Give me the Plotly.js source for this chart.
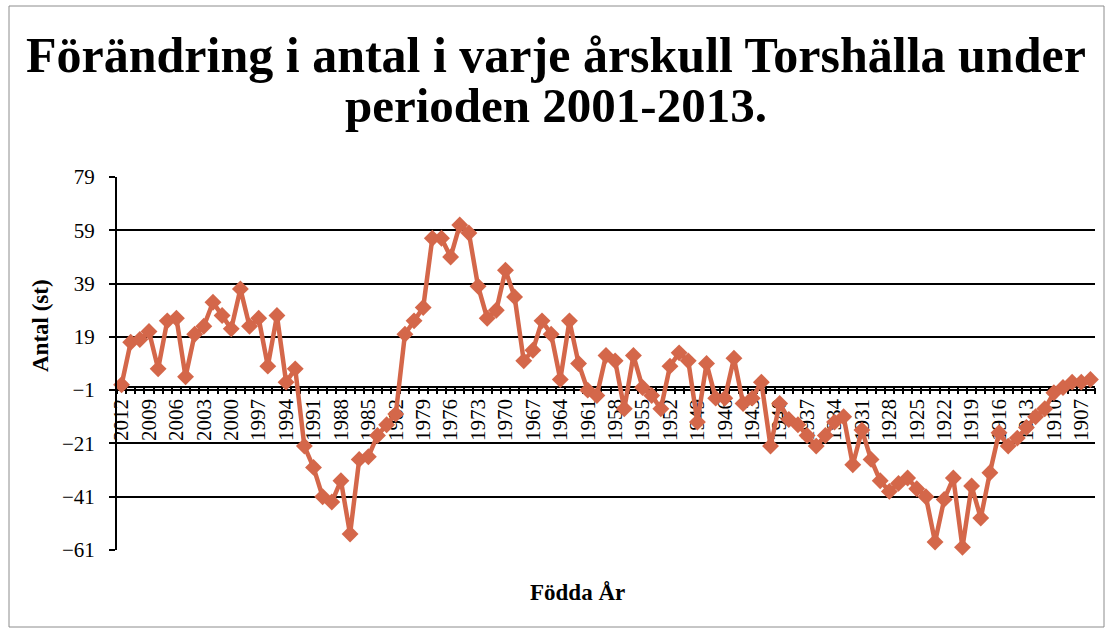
<!DOCTYPE html>
<html>
<head>
<meta charset="utf-8">
<script src="https://cdn.plot.ly/plotly-3.0.1.min.js"></script>
<style>html,body{margin:0;padding:0;background:#fff;}#chart{width:1112px;height:634px;}</style>
</head>
<body>
<div id="chart"></div>
<script>
const years = [2012,2011,2010,2009,2008,2007,2006,2005,2004,2003,2002,2001,2000,1999,1998,1997,1996,1995,1994,1993,
1992,1991,1990,1989,1988,1987,1986,1985,1984,1983,1982,1981,1980,1979,1978,1977,1976,1975,1974,1973,
1972,1971,1970,1969,1968,1967,1966,1965,1964,1963,1962,1961,1960,1959,1958,1957,1956,1955,1954,1953,
1952,1951,1950,1949,1948,1947,1946,1945,1944,1943,1942,1941,1940,1939,1938,1937,1936,1935,1934,1933,
1932,1931,1930,1929,1928,1927,1926,1925,1924,1923,1922,1921,1920,1919,1918,1917,1916,1915,1914,1913,
1912,1911,1910,1909,1908,1907,1906];

const antal = [1,17,18,21,7,25,26,4,20,23,32,27,22,37,23,26,8,27,2,7,
-22,-30,-41,-43,-35,-55,-27,-26,-18,-14,-10,20,25,30,56,56,49,61,58,38,
26,29,44,34,10,14,25,20,3,25,9,-1,-3,12,10,-8,12,0,-3,-8,
8,13,10,-13,9,-4,-4,11,-6,-4,2,-22,-6,-12,-14,-18,-22,-18,-13,-11,
-29,-16,-27,-35,-39,-36,-34,-38,-41,-58,-42,-34,-60,-37,-49,-32,-17,-22,-19,-15,
-11,-8,-2,0,2,2,3];

const xTickYears = [2012,2009,2006,2003,2000,1997,1994,1991,1988,1985,1982,1979,1976,1973,1970,1967,1964,1961,1958,1955,1952,1949,1946,1943,1940,1937,1934,1931,1928,1925,1922,1919,1916,1913,1910,1907];
const yTicks = [-61,-41,-21,-1,19,39,59,79];

const titleLine1 = 'Förändring i antal i varje årskull Torshälla under';
const titleLine2 = 'perioden 2001-2013.';
const xTitle = 'Födda År';
const yTitle = 'Antal (st)';

const serif = 'Liberation Serif, Times New Roman, serif';
const lineColor = '#D4674A';

// plot area in pixels: x 117..1095, y 177..550
const px = (x) => (x - 117) / 978;
const py = (y) => (550 - y) / 373;

const trace = {
  x: years,
  y: antal,
  type: 'scatter',
  mode: 'lines+markers',
  line: {color: lineColor, width: 4.5},
  marker: {symbol: 'diamond', size: 13, color: lineColor},
  hoverinfo: 'x+y',
  cliponaxis: false
};

const layout = {
  width: 1112,
  height: 634,
  margin: {l: 117, r: 17, t: 177, b: 84},
  paper_bgcolor: '#ffffff',
  plot_bgcolor: '#ffffff',
  showlegend: false,
  font: {family: serif, color: '#000'},
  xaxis: {
    range: [2012.5, 1905.5],
    tickmode: 'array',
    tickvals: xTickYears,
    ticktext: xTickYears.map(String),
    tickangle: -90,
    tickfont: {family: serif, size: 21, color: '#000'},
    ticks: '',
    minor: {ticks: 'outside', tick0: 0.5, dtick: 1, ticklen: 6, tickwidth: 2, tickcolor: '#000', showgrid: false},
    showgrid: false,
    zeroline: false,
    showline: true,
    linecolor: '#000',
    linewidth: 2,
    anchor: 'free',
    position: 61/140,
    ticklabelstandoff: 2,
    layer: 'below traces'
  },
  yaxis: {
    range: [-61, 79],
    tickmode: 'array',
    tickvals: yTicks,
    tickfont: {family: serif, size: 21, color: '#000'},
    ticks: 'outside',
    ticklen: 6,
    tickwidth: 2,
    tickcolor: '#000',
    showgrid: true,
    gridcolor: '#000',
    gridwidth: 2,
    zeroline: false,
    showline: true,
    linecolor: '#000',
    linewidth: 2,
    ticklabelstandoff: 10
  },
  annotations: [
    {text: '<b>' + titleLine1 + '</b>', xref: 'paper', yref: 'paper', x: px(556), y: py(55), xanchor: 'center', yanchor: 'middle', showarrow: false, font: {family: serif, size: 50, color: '#000'}},
    {text: '<b>' + titleLine2 + '</b>', xref: 'paper', yref: 'paper', x: px(556), y: py(105), xanchor: 'center', yanchor: 'middle', showarrow: false, font: {family: serif, size: 49, color: '#000'}},
    {text: '<b>' + xTitle + '</b>', xref: 'paper', yref: 'paper', x: px(577), y: py(592), xanchor: 'center', yanchor: 'middle', showarrow: false, font: {family: serif, size: 23, color: '#000'}},
    {text: '<b>' + yTitle + '</b>', xref: 'paper', yref: 'paper', x: px(40), y: py(326), xanchor: 'center', yanchor: 'middle', textangle: -90, showarrow: false, font: {family: serif, size: 23, color: '#000'}}
  ],
  shapes: [
    {type: 'rect', xref: 'paper', yref: 'paper', x0: px(9), x1: px(1104), y0: py(627), y1: py(6), line: {color: '#8c8c8c', width: 1}, fillcolor: 'rgba(0,0,0,0)', layer: 'below'}
  ]
};

Plotly.newPlot('chart', [trace], layout, {displayModeBar: false, staticPlot: true});
</script>
</body>
</html>
